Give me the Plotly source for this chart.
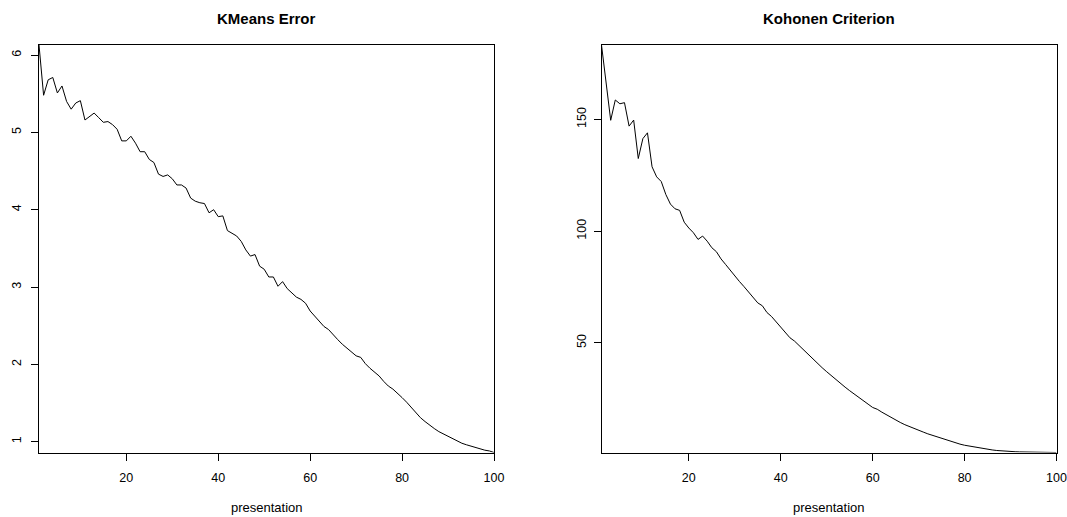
import plotly.graph_objects as go

presentation = list(range(1, 101))

kmeans_error = [
    6.13, 5.48, 5.68, 5.71, 5.51, 5.60, 5.40, 5.30, 5.38, 5.41,
    5.16, 5.21, 5.25, 5.19, 5.13, 5.14, 5.10, 5.04, 4.89, 4.89,
    4.95, 4.86, 4.75, 4.75, 4.65, 4.61, 4.46, 4.43, 4.45, 4.40,
    4.32, 4.32, 4.28, 4.15, 4.11, 4.09, 4.08, 3.96, 4.00, 3.91,
    3.92, 3.73, 3.69, 3.66, 3.59, 3.48, 3.40, 3.42, 3.27, 3.23,
    3.13, 3.13, 3.01, 3.07, 2.98, 2.92, 2.87, 2.84, 2.79, 2.69,
    2.62, 2.56, 2.49, 2.45, 2.38, 2.32, 2.26, 2.21, 2.16, 2.11,
    2.09, 2.01, 1.95, 1.90, 1.85, 1.78, 1.72, 1.68, 1.63, 1.57,
    1.51, 1.44, 1.37, 1.31, 1.26, 1.21, 1.17, 1.13, 1.10, 1.06,
    1.03, 1.00, 0.98, 0.96, 0.94, 0.925, 0.91, 0.89, 0.88, 0.86,
]

kohonen_criterion = [
    183.3, 167.0, 149.6, 158.7, 157.0, 157.5, 147.0, 149.7, 132.5, 141.4,
    144.0, 128.8, 124.3, 122.2, 116.4, 112.1, 110.0, 109.3, 104.0, 101.4,
    99.3, 96.3, 97.8, 95.5, 92.6, 90.8, 87.6, 85.1, 82.5, 79.6,
    77.5, 75.2, 72.6, 70.2, 67.9, 66.6, 63.6, 61.8, 59.4, 56.9,
    54.3, 52.3, 50.8, 48.8, 46.7, 44.8, 42.7, 40.6, 38.9, 37.1,
    35.3, 33.6, 31.8, 30.2, 28.6, 27.0, 25.4, 24.1, 22.6, 21.1,
    20.3, 19.0, 17.8, 16.6, 15.5, 14.4, 13.4, 12.5, 11.7, 10.9,
    10.1, 9.3, 8.6, 7.9, 7.2, 6.6, 6.0, 5.3, 4.7, 4.2,
    3.8, 3.4, 3.0, 2.7, 2.4, 2.1, 1.85, 1.65, 1.5, 1.4,
    1.3, 1.22, 1.15, 1.1, 1.06, 1.03, 1.0, 0.98, 0.96, 0.95,
]

x_ticks = [20, 40, 60, 80, 100]
kmeans_y_ticks = [1, 2, 3, 4, 5, 6]
kohonen_y_ticks = [50, 100, 150]

titles = ["KMeans Error", "Kohonen Criterion"]
x_label = "presentation"

W, H = 1067, 517
FONT = "Liberation Sans, Arial, Helvetica, sans-serif"

left_px = [(39, 494), (601.5, 1056.5)]
top_px, bottom_px = 45, 452.5
y_dom = [1 - bottom_px / H, 1 - top_px / H]

fig = go.Figure()
fig.add_trace(go.Scatter(x=presentation, y=kmeans_error, mode="lines",
                         line=dict(color="black", width=1), xaxis="x", yaxis="y",
                         showlegend=False, hoverinfo="skip"))
fig.add_trace(go.Scatter(x=presentation, y=kohonen_criterion, mode="lines",
                         line=dict(color="black", width=1), xaxis="x2", yaxis="y2",
                         showlegend=False, hoverinfo="skip"))

axis_common = dict(showline=True, mirror=True, linecolor="black", linewidth=1,
                   ticks="outside", ticklen=7, tickwidth=1, tickcolor="black",
                   showgrid=False, zeroline=False, automargin=False,
                   tickfont=dict(family=FONT, size=12.5, color="black"))

fig.update_layout(
    width=W, height=H,
    margin=dict(l=0, r=0, t=0, b=0),
    paper_bgcolor="white", plot_bgcolor="white",
    xaxis=dict(domain=[left_px[0][0] / W, left_px[0][1] / W], anchor="y",
               range=[1, 100], tickvals=x_ticks, ticklabelstandoff=6, **axis_common),
    yaxis=dict(domain=y_dom, anchor="x",
               range=[min(kmeans_error), max(kmeans_error)],
               tickvals=kmeans_y_ticks, tickangle=-90, ticklabelstandoff=5, **axis_common),
    xaxis2=dict(domain=[left_px[1][0] / W, left_px[1][1] / W], anchor="y2",
                range=[1, 100], tickvals=x_ticks, ticklabelstandoff=6, **axis_common),
    yaxis2=dict(domain=y_dom, anchor="x2",
                range=[min(kohonen_criterion), max(kohonen_criterion)],
                tickvals=kohonen_y_ticks, tickangle=-90, ticklabelstandoff=3, **axis_common),
)

for i, (l, r) in enumerate(left_px):
    cx = (l + r) / 2 / W
    fig.add_annotation(text="<b>%s</b>" % titles[i], x=cx, y=1 - 18 / H,
                       xref="paper", yref="paper", showarrow=False,
                       xanchor="center", yanchor="middle",
                       font=dict(family=FONT, size=15, color="black"))
    fig.add_annotation(text=x_label, x=cx, y=1 - 507 / H,
                       xref="paper", yref="paper", showarrow=False,
                       xanchor="center", yanchor="middle",
                       font=dict(family=FONT, size=13, color="black"))

fig.write_html("out.html")
